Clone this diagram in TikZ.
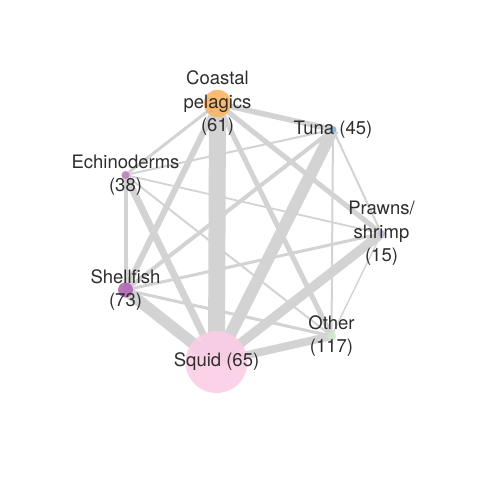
\documentclass[tikz,border=0pt]{standalone}
\usepackage{fontspec}
\setmainfont{TeX Gyre Heros}
\definecolor{edgec}{HTML}{D3D3D3}
\definecolor{txt}{HTML}{2E2E2E}
\definecolor{cCoastal}{HTML}{FDB462}
\definecolor{cTuna}{HTML}{80B1D3}
\definecolor{cPrawns}{HTML}{BEBADA}
\definecolor{cOther}{HTML}{CCEBC5}
\definecolor{cSquid}{HTML}{FCCDE5}
\definecolor{cShell}{HTML}{B066B3}
\definecolor{cEchino}{HTML}{BC80BD}
\begin{document}
\begin{tikzpicture}[x=1pt,y=-1pt,
  edge/.style={draw=edgec,line width=#1},
  vert/.style={circle,inner sep=0pt,fill opacity=0.9,draw=none,fill=#1},
  lab/.style={align=center,text=txt,inner sep=0pt,font=\fontsize{18.5}{23.5}\selectfont}]
\useasboundingbox (0,0) rectangle (480,480);
\coordinate (C) at (217.5,103.5);
\coordinate (T) at (333,129.5);
\coordinate (P) at (381.5,233.5);
\coordinate (O) at (331.5,336);
\coordinate (S) at (216.5,362);
\coordinate (H) at (125.5,290);
\coordinate (E) at (125.5,175);
% edges
\draw[edge=2pt] (T) -- (E);
\draw[edge=1.8pt] (P) -- (E);
\draw[edge=2pt] (O) -- (E);
\draw[edge=3pt] (C) -- (E);
\draw[edge=2pt] (T) -- (P);
\draw[edge=2pt] (T) -- (O);
\draw[edge=1.4pt] (P) -- (O);
\draw[edge=3pt] (P) -- (H);
\draw[edge=3pt] (O) -- (H);
\draw[edge=4pt] (H) -- (E);
\draw[edge=4pt] (T) -- (H);
\draw[edge=5pt] (C) -- (O);
\draw[edge=5pt] (C) -- (P);
\draw[edge=6pt] (C) -- (H);
\draw[edge=5.5pt] (C) -- (T);
\draw[edge=7pt] (E) -- (S);
\draw[edge=8pt] (O) -- (S);
\draw[edge=9.5pt] (P) -- (S);
\draw[edge=11.5pt] (H) -- (S);
\draw[edge=12pt] (T) -- (S);
\draw[edge=17pt] (C) -- (S);
% vertices
\node[vert=cCoastal,minimum size=27.5pt] (vC) at (C) {};
\node[vert=cTuna,minimum size=7pt] (vT) at (T) {};
\node[vert=cPrawns,minimum size=7pt] (vP) at (P) {};
\node[vert=cOther,minimum size=9pt] (vO) at (O) {};
\node[vert=cSquid,minimum size=62pt] (vS) at (S) {};
\node[vert=cShell,minimum size=15pt] (vH) at (H) {};
\node[vert=cEchino,minimum size=8pt] (vE) at (E) {};
% labels
\node[lab] (lC) at (C) {Coastal\\pelagics\\(61)};
\node[lab] (lT) at (T) {Tuna (45)};
\node[lab] (lP) at (P) {Prawns/\\shrimp\\(15)};
\node[lab] (lO) at (O) {Other\\(117)};
\node[lab] (lS) at (S) {Squid (65)};
\node[lab] (lH) at (H) {Shellfish\\(73)};
\node[lab] (lE) at (E) {Echinoderms\\(38)};
\end{tikzpicture}
\end{document}
